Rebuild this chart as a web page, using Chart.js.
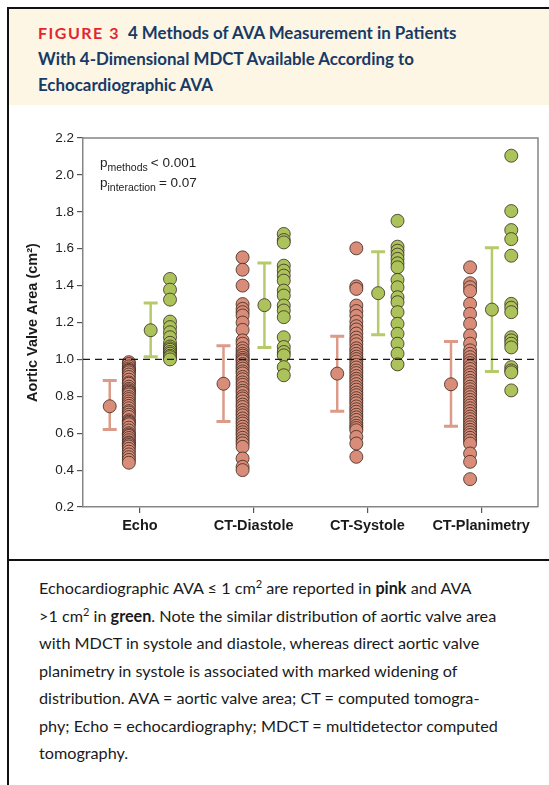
<!DOCTYPE html>
<html lang="en">
<head>
<meta charset="UTF-8" />
<title>Figure 3 - 4 Methods of AVA Measurement</title>
<script src="https://cdn.jsdelivr.net/npm/chart.js"></script>
<style>
  html, body { margin: 0; padding: 0; background: #fff; }
  body { width: 549px; height: 785px; position: relative; overflow: hidden; font-family: Lato, "Noto Sans", sans-serif; }
  .frame-top { position: absolute; left: 7px; top: 7px; right: 0; height: 2px; background: #111; }
  .frame-left { position: absolute; left: 7px; top: 7px; width: 2px; bottom: 0; background: #111; }
  .header { position: absolute; left: 9px; top: 9px; right: 0; height: 96px; background: #fdf6e4; }
  .header h1 { margin: 0; position: absolute; left: 29px; top: 11px; font-size: 16.9px; line-height: 26px; font-weight: 700; color: #173a66; }
  .fig { color: #e3262e; letter-spacing: 1.5px; margin-right: 8px; font-size: 16px; }
  .divider { position: absolute; left: 7px; right: 0; top: 559px; height: 2px; background: #111; }
  .caption { position: absolute; left: 39px; top: 574px; font-size: 16.2px; line-height: 27.5px; color: #1a1a1a; }
  .caption sup { font-size: 11px; line-height: 0; }
  #wrap { position: absolute; left: 10px; top: 115px; width: 539px; height: 440px; }
</style>
</head>
<body>
  <div class="frame-top"></div>
  <div class="frame-left"></div>
  <div class="header">
    <h1><span class="fig">FIGURE 3</span>4 Methods of AVA Measurement in Patients<br>With 4-Dimensional MDCT Available According to<br>Echocardiographic AVA</h1>
  </div>

  <div id="wrap"><canvas id="avaChart"></canvas></div>

  <div class="divider"></div>
  <div class="caption">
    Echocardiographic AVA &le; 1 cm<sup>2</sup> are reported in <b>pink</b> and AVA<br>
    &gt;1 cm<sup>2</sup> in <b>green</b>. Note the similar distribution of aortic valve area<br>
    with MDCT in systole and diastole, whereas direct aortic valve<br>
    planimetry in systole is associated with marked widening of<br>
    distribution. AVA = aortic valve area; CT = computed tomogra-<br>
    phy; Echo = echocardiography; MDCT = multidetector computed<br>
    tomography.
  </div>

<script>
  // categories and raw values
  const categories = ['Echo', 'CT-Diastole', 'CT-Systole', 'CT-Planimetry'];

  const echoPink = [0.985, 0.975, 0.962, 0.951, 0.943, 0.938, 0.93, 0.918, 0.905, 0.89, 0.875, 0.868, 0.852, 0.84, 0.832,
    0.825, 0.818, 0.81, 0.796, 0.785, 0.772, 0.76, 0.748, 0.735, 0.72, 0.712, 0.70, 0.688, 0.67, 0.662, 0.655, 0.648,
    0.63, 0.615, 0.60, 0.592, 0.585, 0.574, 0.562, 0.55, 0.545, 0.536, 0.528, 0.515, 0.50, 0.485, 0.47, 0.455, 0.44];
  const echoGreen = [1.436, 1.378, 1.324, 1.205, 1.175, 1.147, 1.12, 1.09, 1.07, 1.06, 1.052, 1.04, 1.031, 1.02, 1.012, 1.0];

  const diaPink = [1.553, 1.486, 1.40, 1.30, 1.274, 1.256, 1.238, 1.20, 1.16, 1.103, 1.085, 1.06, 1.045, 1.03, 1.02, 1.008,
    0.998, 0.99, 0.975, 0.962, 0.95, 0.935, 0.924, 0.905, 0.892, 0.875, 0.862, 0.845, 0.83, 0.818, 0.80, 0.788, 0.772,
    0.755, 0.742, 0.725, 0.71, 0.697, 0.68, 0.665, 0.652, 0.635, 0.62, 0.605, 0.592, 0.575, 0.56, 0.545, 0.526, 0.463,
    0.418, 0.40];
  const diaGreen = [1.68, 1.647, 1.634, 1.508, 1.481, 1.454, 1.427, 1.373, 1.346, 1.292, 1.265, 1.229, 1.12, 1.067, 1.04,
    1.022, 0.958, 0.914];

  const sysPink = [1.602, 1.396, 1.382, 1.292, 1.262, 1.236, 1.205, 1.18, 1.162, 1.14, 1.118, 1.10, 1.082, 1.06, 1.046,
    1.03, 1.015, 1.002, 0.988, 0.97, 0.956, 0.94, 0.926, 0.91, 0.895, 0.882, 0.866, 0.85, 0.836, 0.82, 0.806, 0.79,
    0.776, 0.762, 0.745, 0.73, 0.716, 0.70, 0.686, 0.672, 0.655, 0.64, 0.628, 0.616, 0.58, 0.544, 0.472];
  const sysGreen = [1.751, 1.611, 1.589, 1.568, 1.545, 1.521, 1.499, 1.431, 1.391, 1.337, 1.31, 1.256, 1.193, 1.139,
    1.085, 1.031, 0.973];

  const planPink = [1.499, 1.413, 1.391, 1.37, 1.301, 1.247, 1.193, 1.13, 1.085, 1.049, 1.03, 1.012, 0.995, 0.98, 0.962,
    0.948, 0.93, 0.915, 0.9, 0.884, 0.87, 0.852, 0.838, 0.822, 0.81, 0.795, 0.78, 0.765, 0.75, 0.735, 0.72, 0.705, 0.69,
    0.676, 0.66, 0.646, 0.632, 0.618, 0.604, 0.59, 0.575, 0.56, 0.544, 0.49, 0.445, 0.351];
  const planGreen = [2.104, 1.804, 1.701, 1.652, 1.562, 1.301, 1.28, 1.256, 1.12, 1.103, 1.085, 1.065, 0.958, 0.94, 0.93,
    0.832];

  const pinkSeries = [echoPink, diaPink, sysPink, planPink];
  const greenSeries = [echoGreen, diaGreen, sysGreen, planGreen];

  // summary bars (mean with range)
  const pinkMean = [0.746, 0.868, 0.923, 0.865];
  const pinkLow = [0.62, 0.663, 0.719, 0.638];
  const pinkHigh = [0.886, 1.074, 1.126, 1.097];
  const greenMean = [1.158, 1.294, 1.359, 1.27];
  const greenLow = [1.015, 1.065, 1.133, 0.935];
  const greenHigh = [1.306, 1.523, 1.584, 1.605];

  const cutoff = 1.0;
  const pNotes = [['methods', '< 0.001'], ['interaction', '= 0.07']];

  // where each group sits inside its category slot
  const OFF_PINK_BAR = -0.265, OFF_PINK = -0.097, OFF_GREEN_BAR = 0.095, OFF_GREEN = 0.265;
  const PINK = '#d98c78', GREEN = '#abc35a';
  const PINK_BAR = '#dc9a88', GREEN_BAR = '#b6ca6c';
  const AXIS_FONT = '"Liberation Sans", Arial, sans-serif';

  const toPoints = (series, off) => series.flatMap((vals, i) => vals.map(v => ({ x: i + 1 + off, y: v })));
  const meanPoints = (vals, off) => vals.map((v, i) => ({ x: i + 1 + off, y: v }));

  const dotStyle = (color) => ({
    backgroundColor: color,
    borderColor: '#3a2a22',
    borderWidth: 0.8,
    pointRadius: 6.5,
    pointHoverRadius: 6.5
  });

  const extras = {
    id: 'extras',
    beforeDatasetsDraw(chart) {
      const { ctx, scales: { x, y } } = chart;
      const bars = [
        [pinkLow, pinkHigh, OFF_PINK_BAR, PINK_BAR],
        [greenLow, greenHigh, OFF_GREEN_BAR, GREEN_BAR]
      ];
      ctx.save();
      bars.forEach(([lo, hi, off, col]) => {
        lo.forEach((v, i) => {
          const px = x.getPixelForValue(i + 1 + off);
          const y1 = y.getPixelForValue(v), y2 = y.getPixelForValue(hi[i]);
          ctx.strokeStyle = col;
          ctx.lineWidth = 2.5;
          ctx.beginPath();
          ctx.moveTo(px, y1); ctx.lineTo(px, y2);
          ctx.stroke();
          ctx.lineWidth = 3;
          ctx.beginPath();
          ctx.moveTo(px - 7, y1); ctx.lineTo(px + 7, y1);
          ctx.moveTo(px - 7, y2); ctx.lineTo(px + 7, y2);
          ctx.stroke();
        });
      });
      ctx.restore();
    },
    afterDatasetsDraw(chart) {
      const { ctx, chartArea: a, scales: { y } } = chart;
      ctx.save();
      // cutoff line
      const yc = y.getPixelForValue(cutoff);
      ctx.strokeStyle = '#1a1a1a';
      ctx.lineWidth = 1.2;
      ctx.setLineDash([7, 5]);
      ctx.beginPath(); ctx.moveTo(a.left, yc); ctx.lineTo(a.right, yc); ctx.stroke();
      ctx.setLineDash([]);
      // top and right frame
      ctx.strokeStyle = '#858585';
      ctx.lineWidth = 1.5;
      ctx.beginPath();
      ctx.moveTo(a.left, a.top); ctx.lineTo(a.right, a.top); ctx.lineTo(a.right, a.bottom);
      ctx.stroke();
      // p values
      ctx.fillStyle = '#222';
      ctx.textBaseline = 'alphabetic';
      pNotes.forEach(([sub, txt], k) => {
        let px = a.left + 17;
        const base = a.top + 29 + k * 20;
        ctx.font = '13.5px ' + AXIS_FONT;
        ctx.fillText('p', px, base);
        px += ctx.measureText('p').width;
        ctx.font = '10.5px ' + AXIS_FONT;
        ctx.fillText(sub, px, base + 4);
        px += ctx.measureText(sub).width + 3;
        ctx.font = '13.5px ' + AXIS_FONT;
        ctx.fillText(txt, px, base);
      });
      ctx.restore();
    }
  };

  new Chart('avaChart', {
    type: 'scatter',
    data: {
      datasets: [
        { data: toPoints(pinkSeries, OFF_PINK), ...dotStyle(PINK) },
        { data: toPoints(greenSeries, OFF_GREEN), ...dotStyle(GREEN) },
        { data: meanPoints(pinkMean, OFF_PINK_BAR), ...dotStyle(PINK) },
        { data: meanPoints(greenMean, OFF_GREEN_BAR), ...dotStyle(GREEN) }
      ]
    },
    options: {
      responsive: true,
      maintainAspectRatio: false,
      animation: false,
      layout: { padding: { top: 23, right: 11, left: 0, bottom: 0 } },
      plugins: { legend: { display: false }, tooltip: { enabled: false } },
      scales: {
        x: {
          type: 'linear', min: 0.5, max: 4.5,
          afterBuildTicks: s => { s.ticks = categories.map((c, i) => ({ value: i + 1 })); },
          afterFit: s => { s.height = 48; },
          grid: { drawOnChartArea: false, drawTicks: true, tickLength: 6, color: '#555', lineWidth: 1.2 },
          border: { display: true, color: '#858585', width: 1.5 },
          ticks: {
            padding: 4, color: '#1a1a1a', maxRotation: 0,
            font: { family: AXIS_FONT, size: 14.5, weight: 'bold' },
            callback: v => categories[v - 1]
          }
        },
        y: {
          min: 0.2, max: 2.2,
          afterFit: s => { s.width = 73; },
          grid: { drawOnChartArea: false, drawTicks: true, tickLength: 6, color: '#555', lineWidth: 1.2 },
          border: { display: true, color: '#858585', width: 1.5 },
          ticks: {
            stepSize: 0.2, padding: 3, color: '#222',
            font: { family: AXIS_FONT, size: 13.5 },
            callback: v => v.toFixed(1)
          },
          title: {
            display: true, text: 'Aortic Valve Area (cm²)', color: '#1a1a1a',
            padding: { top: 14, bottom: 0 },
            font: { family: AXIS_FONT, size: 14.5, weight: 'bold' }
          }
        }
      }
    },
    plugins: [extras]
  });
</script>
</body>
</html>
